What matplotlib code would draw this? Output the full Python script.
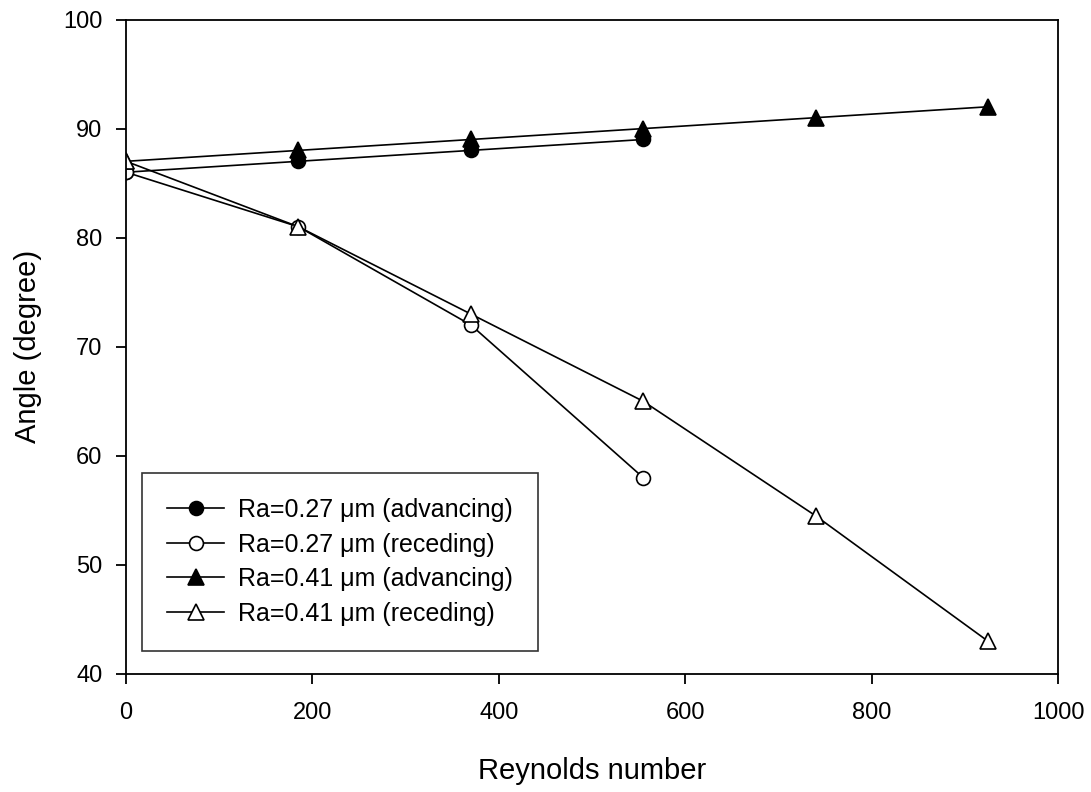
import matplotlib
matplotlib.use("Agg")
import matplotlib.pyplot as plt

plt.rcParams['font.family'] = ['Liberation Sans', 'DejaVu Sans']

re_27 = [0, 185, 370, 555]
adv_27 = [86, 87, 88, 89]
rec_27 = [86, 81, 72, 58]

re_41 = [0, 185, 370, 555, 740, 925]
adv_41 = [87, 88, 89, 90, 91, 92]
rec_41 = [87, 81, 73, 65, 54.5, 43]

labels = ["Ra=0.27 \u03bcm (advancing)", "Ra=0.27 \u03bcm (receding)",
          "Ra=0.41 \u03bcm (advancing)", "Ra=0.41 \u03bcm (receding)"]

fig = plt.figure(figsize=(10.91, 7.92), dpi=100)
# axes box: x 126..1058 px, y 19.5..674 px
ax = fig.add_axes([126 / 1091, 1 - 674 / 792, 932 / 1091, 654.5 / 792])

kw = dict(color='black', linewidth=1.2, markeredgecolor='black', markeredgewidth=1.2)
ax.plot(re_27, adv_27, marker='o', markersize=10, markerfacecolor='black', label=labels[0], **kw)
ax.plot(re_27, rec_27, marker='o', markersize=10, markerfacecolor='white', label=labels[1], **kw)
ax.plot(re_41, adv_41, marker='^', markersize=11, markerfacecolor='black', label=labels[2], **kw)
ax.plot(re_41, rec_41, marker='^', markersize=11, markerfacecolor='white', label=labels[3], **kw)

ax.set_xlim(0, 1000)
ax.set_ylim(40, 100)
ax.set_xticks(range(0, 1001, 200))
ax.set_yticks(range(40, 101, 10))
ax.tick_params(direction='out', length=7, width=1.3, labelsize=17)
ax.tick_params(axis='x', pad=13)
ax.tick_params(axis='y', pad=10)
for s in ax.spines.values():
    s.set_linewidth(1.3)
ax.set_xlabel("Reynolds number", fontsize=21, labelpad=24)
ax.set_ylabel("Angle (degree)", fontsize=21, labelpad=15)

leg = ax.legend(loc='upper left', bbox_to_anchor=(0.017, 0.307), fontsize=18,
                frameon=True, fancybox=False, edgecolor='black', handlelength=2.3,
                borderpad=1.0, labelspacing=0.42, handletextpad=0.55, borderaxespad=0)
leg.get_frame().set_linewidth(1.2)

fig.savefig("out.png", dpi=100)
